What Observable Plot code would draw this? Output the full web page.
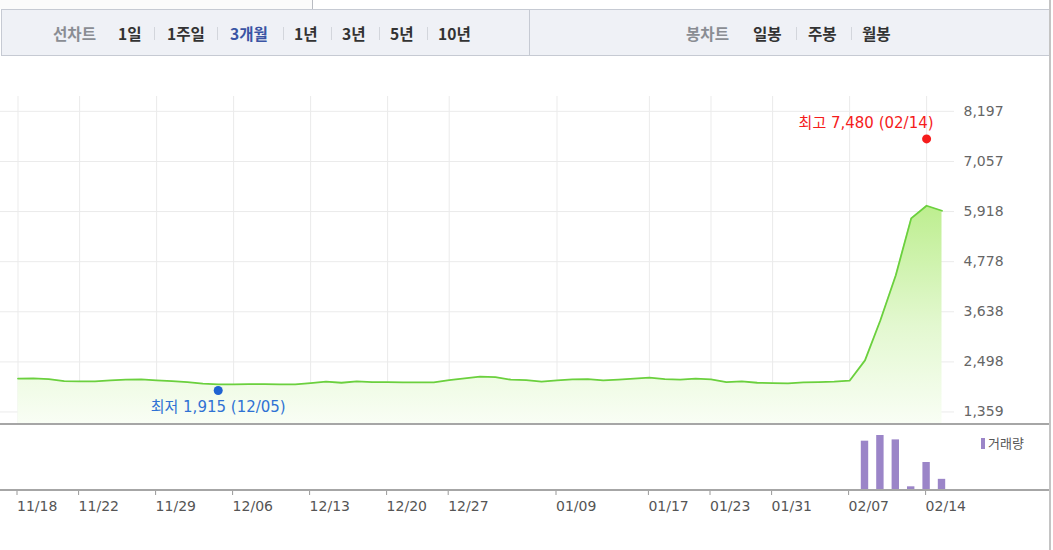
<!DOCTYPE html>
<html>
<head>
<meta charset="utf-8">
<script src="https://cdn.jsdelivr.net/npm/d3@7"></script>
<script src="https://cdn.jsdelivr.net/npm/@observablehq/plot@0.6"></script>
<style>
  html, body { margin: 0; padding: 0; background: #fff; }
  #root { position: relative; width: 1053px; height: 550px; overflow: hidden; font-family: "DejaVu Sans", "Noto Sans CJK KR", sans-serif; }
  .abs { position: absolute; }
  #tabcorner { left: 0; top: 0; width: 312px; height: 9px; background: #fbfbfb; border-right: 1px solid #b9bcc2; }
  #toolbar { left: 1px; top: 9px; width: 1047px; height: 45px; background: #eff1f6; border: 1px solid #c6cad3; }
  #toolbar .t { position: absolute; top: 0; height: 45px; line-height: 46px; font-family: "Noto Sans CJK KR", sans-serif; font-size: 15.6px; font-weight: 700; color: #333; white-space: nowrap; }
  #toolbar .g { color: #8a8d93; font-weight: 700; }
  #toolbar .b { color: #3a54a4; }
  #toolbar .s { position: absolute; top: 17px; width: 1px; height: 13px; background: #d3d6dc; }
  #divider { left: 527px; top: 0; width: 1px; height: 45px; background: #c6cad3; }
  .hline { left: 0; width: 1050px; height: 2px; background: #a6a6a6; }
  #rightline { left: 1049px; top: 0; width: 2px; height: 550px; background: #c4c4c4; }
  #mainplot { left: 0; top: 60px; }
  #volplot { left: 0; top: 424px; }
  #legend { left: 981px; top: 434px; font-family: "Noto Sans CJK KR", sans-serif; font-size: 13px; color: #555; line-height: 18px; }
  #legend i { display: inline-block; width: 4px; height: 11px; background: #9b85c8; margin-right: 3px; vertical-align: -1px; }
</style>
</head>
<body>
<div id="root">
  <div id="tabcorner" class="abs"></div>
  <div id="toolbar" class="abs">
    <span class="t g" style="left:51px">선차트</span>
    <span class="t" style="left:116px">1일</span><span class="s" style="left:152px"></span>
    <span class="t" style="left:165px">1주일</span><span class="s" style="left:215px"></span>
    <span class="t b" style="left:228px">3개월</span><span class="s" style="left:281px"></span>
    <span class="t" style="left:292px">1년</span><span class="s" style="left:329px"></span>
    <span class="t" style="left:340px">3년</span><span class="s" style="left:377px"></span>
    <span class="t" style="left:388px">5년</span><span class="s" style="left:425px"></span>
    <span class="t" style="left:436px">10년</span>
    <div id="divider" class="abs"></div>
    <span class="t g" style="left:684px">봉차트</span>
    <span class="t" style="left:751px">일봉</span><span class="s" style="left:794px"></span>
    <span class="t" style="left:806px">주봉</span><span class="s" style="left:849px"></span>
    <span class="t" style="left:860px">월봉</span>
  </div>
  <div id="mainplot" class="abs"></div>
  <div id="volplot" class="abs"></div>
  <div class="abs hline" style="top:423px"></div>
  <div class="abs hline" style="top:489px"></div>
  <div id="rightline" class="abs"></div>
  <div id="legend" class="abs"><i></i>거래량</div>
</div>
<script>
// ---- data ----
// daily closing prices, trading-day index 0 (11/18) .. 60
const closes = [2119,2123,2107,2061,2054,2054,2077,2093,2100,2077,
                2061,2038,2002,1986,1986,1993,1993,1986,1986,2016,
                2050,2024,2054,2038,2038,2031,2031,2031,2084,2123,
                2161,2152,2093,2084,2047,2077,2100,2107,2077,2093,
                2116,2139,2107,2093,2116,2100,2038,2054,2024,2016,
                2009,2031,2038,2047,2070,2533,3445,4470,5763,6050,5936];
// trading volume (thousand shares) on the days where bars are visible
const volDays = [55, 56, 57, 58, 59, 60];
const volumes = [4950, 5520, 5080, 370, 2810, 1120];
// x-axis tick labels and their trading-day index
const tickLabels = ["11/18","11/22","11/29","12/06","12/13","12/20","12/27","01/09","01/17","01/23","01/31","02/07","02/14"];
const tickDays   = [0, 4, 9, 14, 19, 24, 28, 35, 41, 45, 49, 54, 59];
// y-axis tick values
const yTicks = [1359, 2498, 3638, 4778, 5918, 7057, 8197];
const yDomain = [1074, 8535];
// annotations
const highPt = {day: 59, value: 7480, label: "최고 7,480 (02/14)"};
const lowPt  = {day: 13, value: 1915, label: "최저 1,915 (12/05)"};

const priceData = closes.map((v, i) => ({day: i, close: v}));
const volData = volDays.map((d, k) => ({day: d, vol: volumes[k]}));
const xScale = {type: "linear", domain: [0, 60], range: [17.5, 941.5]};
const fontFamily = "'DejaVu Sans', 'Noto Sans CJK KR', sans-serif";

const main = Plot.plot({
  width: 1053, height: 364,
  marginTop: 36, marginBottom: 0, marginLeft: 0, marginRight: 99,
  style: {fontFamily, fontSize: "14px", background: "transparent", overflow: "visible"},
  x: {...xScale, axis: null},
  y: {domain: yDomain, axis: null},
  marks: [
    Plot.gridY(yTicks, {stroke: "#ebebeb", strokeOpacity: 1}),
    Plot.gridX(tickDays, {stroke: "#ebebeb", strokeOpacity: 1}),
    Plot.areaY(priceData, {x: "day", y1: yDomain[0], y2: "close", fill: "url(#pgrad)", curve: "linear"}),
    Plot.lineY(priceData, {x: "day", y: "close", stroke: "#6bd03e", strokeWidth: 1.8}),
    Plot.axisY(yTicks, {anchor: "right", tickSize: 0, tickPadding: 9, tickFormat: d3.format(","), fill: "#666", fontSize: 14}),
    Plot.dot([highPt], {x: "day", y: "value", r: 4.5, fill: "#f51c1c", dy: -4}),
    Plot.text([highPt], {x: "day", y: "value", text: "label", fill: "#f51c1c", fontSize: 15, textAnchor: "end", dx: 7, dy: -20}),
    Plot.dot([lowPt], {x: "day", y: "value", r: 4.5, fill: "#1f63d2", dy: 3}),
    Plot.text([lowPt], {x: "day", y: "value", text: "label", fill: "#2f72d4", fontSize: 15, dy: 20})
  ]
});
// vertical gradient for the price area
const ns = "http://www.w3.org/2000/svg";
const defs = document.createElementNS(ns, "defs");
defs.innerHTML = '<linearGradient id="pgrad" x1="0" y1="0" x2="0" y2="1">' +
  '<stop offset="0" stop-color="#bdee8f"/><stop offset="0.55" stop-color="#e3f8d0"/><stop offset="1" stop-color="#f9fef5"/></linearGradient>';
main.insertBefore(defs, main.firstChild);
document.getElementById("mainplot").appendChild(main);

const vol = Plot.plot({
  width: 1053, height: 100,
  marginTop: 11, marginBottom: 34, marginLeft: 0, marginRight: 99,
  style: {fontFamily, fontSize: "14px", background: "transparent", overflow: "visible"},
  x: {...xScale, axis: null},
  y: {domain: [0, d3.max(volumes)], axis: null},
  marks: [
    Plot.rectY(volData, {x1: d => d.day - 0.24, x2: d => d.day + 0.24, y1: 0, y2: "vol", fill: "#9b85c8"}),
    Plot.axisX(tickDays, {anchor: "bottom", tickSize: 5, tickPadding: 6, textAnchor: "start", dx: -1,
      tickFormat: d => tickLabels[tickDays.indexOf(d)], stroke: "#999", fill: "#555", fontSize: 14})
  ]
});
document.getElementById("volplot").appendChild(vol);
</script>
</body>
</html>
